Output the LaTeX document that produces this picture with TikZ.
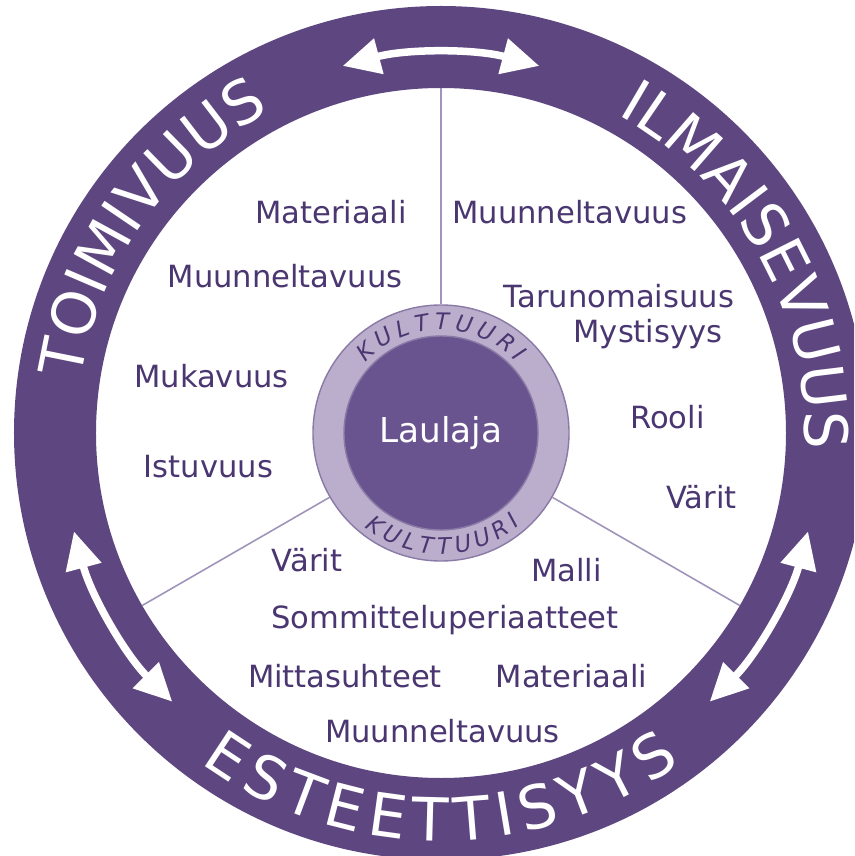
\documentclass[tikz,border=0pt]{standalone}
\usepackage{fontspec}
\setmainfont{DejaVu Sans}
\usetikzlibrary{arrows.meta, positioning, decorations.text}

\definecolor{ringpurple}{RGB}{94,71,128}
\definecolor{corepurple}{RGB}{106,84,144}
\definecolor{culturelight}{RGB}{186,174,204}
\definecolor{cultureedge}{RGB}{138,122,166}
\definecolor{labeltext}{RGB}{74,54,112}
\definecolor{spokeline}{RGB}{160,148,186}

\begin{document}
\begin{tikzpicture}[
        itemtext/.style={text=labeltext, font=\fontsize{17.4}{20}\selectfont, inner sep=0pt, text height=12.6pt, text depth=0pt},
        spoke/.style={draw=spokeline, line width=0.9pt},
        twoway/.style={{Triangle[length=7.5mm, width=7mm, fill=white]}-{Triangle[length=7.5mm, width=7mm, fill=white]}, white, line width=1.5mm},
        ringtext/.style={decorate, decoration={text along path, text align={fit to path}, text color=white, text={|\fontsize{34}{34}\selectfont|#1}}},
        culturetext/.style={decorate, decoration={text along path, text align={fit to path}, text color=labeltext, text={|\itshape\fontsize{13}{13}\selectfont|#1}}}
    ]
    \useasboundingbox (-8.82,-8.46) rectangle (8.26,8.66);
    \clip (-8.82,-8.46) rectangle (8.26,8.66);
    \fill[white] (-8.82,-8.46) rectangle (8.26,8.66);

    % Outer ring
    \fill[ringpurple, even odd rule] (0,0) circle (8.54) (0,0) circle (6.9);
    \coordinate (rimtop) at (90:6.9);
    \coordinate (rimleft) at (210:6.9);
    \coordinate (rimright) at (330:6.9);

    % Ring titles
    \path[ringtext={TOIMIVUUS}] (171.5:7.28) arc[start angle=171.5, end angle=118, radius=7.28];
    \path[ringtext={ILMAISEVUUS}] (61:7.28) arc[start angle=61, end angle=-2.5, radius=7.28];
    \path[ringtext={ESTEETTISYYS}] (234:8.16) arc[start angle=234, end angle=306, radius=8.16];

    % Arrows in the ring
    \draw[twoway] (75:7.6) arc[start angle=75, end angle=105, radius=7.6];
    \draw[twoway] (195:7.6) arc[start angle=195, end angle=225, radius=7.6];
    \draw[twoway] (315:7.6) arc[start angle=315, end angle=345, radius=7.6];

    % Centre
    \node[circle, fill=culturelight, draw=cultureedge, line width=0.8pt, minimum size=5.12cm] (kulttuuri) at (0,0) {};
    \node[circle, fill=corepurple, draw=cultureedge, line width=0.8pt, minimum size=3.88cm, text=white, font=\fontsize{19.5}{22}\selectfont] (laulaja) at (0,0) {Laulaja};
    \path[culturetext={KULTTUURI}] (137:2.07) arc[start angle=137, end angle=43, radius=2.07];
    \path[culturetext={KULTTUURI}] (231:2.42) arc[start angle=231, end angle=311, radius=2.42];

    % Spokes
    \draw[spoke] (kulttuuri.90) -- (rimtop);
    \draw[spoke] (kulttuuri.210) -- (rimleft);
    \draw[spoke] (kulttuuri.330) -- (rimright);

    % Nodes
    \node[itemtext, anchor=east] (matL) at (-0.68,4.42) {Materiaali};
    \node[itemtext, anchor=west] (muuR) at (0.22,4.42) {Muunneltavuus};
    \node[itemtext] (muuL) at (-3.12,3.14) {Muunneltavuus};
    \node[itemtext] (taru) at (3.56,2.74) {Tarunomaisuus};
    \node[itemtext] (myst) at (4.14,2.04) {Mystisyys};
    \node[itemtext] (muka) at (-4.59,1.14) {Mukavuus};
    \node[itemtext] (rooli) at (4.53,0.32) {Rooli};
    \node[itemtext] (istu) at (-4.65,-0.66) {Istuvuus};
    \node[itemtext] (varitR) at (5.21,-1.28) {Värit};
    \node[itemtext] (varitB) at (-2.68,-2.54) {Värit};
    \node[itemtext] (malli) at (2.51,-2.74) {Malli};
    \node[itemtext] (sommi) at (0.08,-3.68) {Sommitteluperiaatteet};
    \node[itemtext] (mitta) at (-1.92,-4.86) {Mittasuhteet};
    \node[itemtext] (matB) at (2.61,-4.86) {Materiaali};
    \node[itemtext] (muuB) at (0.03,-5.96) {Muunneltavuus};
\end{tikzpicture}
\end{document}
